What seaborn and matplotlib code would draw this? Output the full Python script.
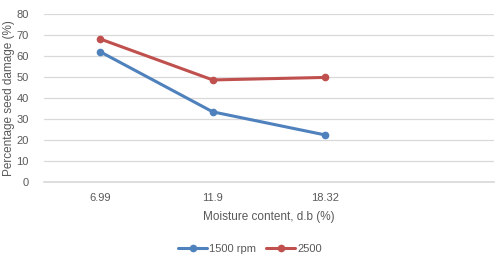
import pandas as pd
import numpy as np
import matplotlib
matplotlib.use("Agg")
import matplotlib.pyplot as plt
import seaborn as sns

# data
moisture = ["6.99", "11.9", "18.32"]
rpm_1500 = [62.0, 33.4, 22.4]
rpm_2500 = [68.1, 48.6, 49.8]
series_names = ["1500 rpm", "2500"]

df = pd.DataFrame({
    "moisture": moisture * 2,
    "damage": rpm_1500 + rpm_2500,
    "speed": [series_names[0]] * 3 + [series_names[1]] * 3,
})

sns.set_theme(style="white")
plt.rcParams["font.family"] = ["Liberation Sans", "DejaVu Sans"]
txt = "#595959"

fig = plt.figure(figsize=(5.0, 2.58), dpi=100)
ax = fig.add_axes([0.088, 0.2946, 0.90, 0.6511])

sns.lineplot(data=df, x="moisture", y="damage", hue="speed",
             palette=["#4F81BD", "#C0504D"], marker="o", markersize=5.5,
             markeredgewidth=0, linewidth=2.2, sort=False, ax=ax)

ax.set_xlim(-0.5, 3.5)
ax.set_ylim(0, 80)
ax.set_yticks(np.arange(0, 81, 10))
ax.yaxis.grid(True, color="#D9D9D9", linewidth=0.9)
ax.set_axisbelow(True)
for s in ["top", "right", "left"]:
    ax.spines[s].set_visible(False)
ax.spines["bottom"].set_color("#D9D9D9")
ax.tick_params(axis="both", length=0, labelsize=8, colors=txt)
ax.tick_params(axis="x", pad=8)
ax.tick_params(axis="y", pad=11)
ax.set_xlabel("Moisture content, d.b (%)", fontsize=8.5, color=txt, labelpad=6)
ax.set_ylabel("Percentage seed damage (%)", fontsize=8.5, color=txt, labelpad=1)

# legend centred on the figure, below the axis title
ax.legend(loc="center", bbox_to_anchor=(0.5, 1 - 249 / 258),
          bbox_transform=fig.transFigure, ncol=2,
          frameon=False, fontsize=8, handlelength=2.6, handletextpad=0.2,
          columnspacing=0.9, labelcolor=txt)

fig.savefig("out.png", dpi=100)
